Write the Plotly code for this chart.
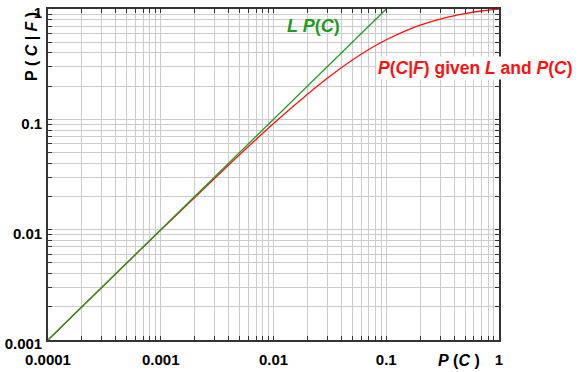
import plotly.graph_objects as go

# Data
pc_line = [0.0001, 0.1]
lp_line = [0.001, 1.0]

pc_curve = [0.0001, 0.0002, 0.0005, 0.001, 0.002, 0.005, 0.01, 0.02, 0.03, 0.05,
            0.07, 0.1, 0.15, 0.2, 0.3, 0.5, 0.7, 1.0]
pcf_curve = [0.000999, 0.001998, 0.00498, 0.00991, 0.0196, 0.0478, 0.0917, 0.169, 0.236, 0.345,
             0.43, 0.526, 0.638, 0.714, 0.811, 0.909, 0.959, 1.0]

x_major = [0.0001, 0.001, 0.01, 0.1, 1]
x_major_labels = ["0.0001", "0.001", "0.01", "0.1", "1"]
y_major = [0.001, 0.01, 0.1, 1]
y_major_labels = ["0.001", "0.01", "0.1", "1"]


def log_ticks(majors, labels):
    vals, texts = [], []
    for i, m in enumerate(majors):
        if i == len(majors) - 1:
            vals.append(m); texts.append(labels[i]); break
        for k in range(1, 10):
            vals.append(m * k)
            texts.append(labels[i] if k == 1 else "")
    return vals, texts


xv, xt = log_ticks(x_major, x_major_labels)
yv, yt = log_ticks(y_major, y_major_labels)

fig = go.Figure()
fig.add_trace(go.Scatter(x=pc_curve, y=pcf_curve, mode="lines", line=dict(color="#ff1010", width=1.3, shape="spline"),
                         showlegend=False, hoverinfo="skip"))
fig.add_trace(go.Scatter(x=pc_line, y=lp_line, mode="lines", line=dict(color="#1f9a1f", width=1.3),
                         showlegend=False, hoverinfo="skip"))

axis_common = dict(type="log", showgrid=True, gridcolor="#cccccc", gridwidth=1, zeroline=False,
                   ticks="inside", ticklen=4, tickcolor="#333", showline=True, mirror="ticks",
                   linecolor="#333", linewidth=1.6, ticklabeloverflow="allow", automargin=False)

tick_font = dict(family="Liberation Sans", size=15, color="black", weight="bold")
fig.update_xaxes(range=[-4, 0], tickvals=xv, ticktext=xt, tickfont=tick_font, ticklabelstandoff=5,
                 **axis_common)
fig.update_yaxes(range=[-3, 0], tickvals=yv, ticktext=yt, ticklabelshift=4, ticklabelstandoff=1,
                 tickfont=tick_font, **axis_common)

ann = dict(xref="paper", yref="paper", showarrow=False, xanchor="center", yanchor="middle")
fig.add_annotation(**ann, x=-0.038, y=0.888, textangle=-90,
                   text="<b>P ( <i>C</i> | <i>F</i> )</b>",
                   font=dict(family="Liberation Sans", size=16, color="black"))
fig.add_annotation(**ann, x=0.911, y=-0.063,
                   text="<b><i>P</i> (<i>C</i> )</b>",
                   font=dict(family="Liberation Sans", size=16, color="black"))
fig.add_annotation(**ann, x=0.588, y=0.949,
                   text="<b><i>L P</i>(<i>C</i>)</b>",
                   font=dict(family="Liberation Sans", size=18, color="#1f9a1f"))
fig.add_annotation(**ann, x=0.949, y=0.822, bgcolor="white",
                   text="<b><i>P</i>(<i>C</i>|<i>F</i>) given <i>L</i> and <i>P</i>(<i>C</i>)</b>",
                   font=dict(family="Liberation Sans", size=17.5, color="#ff1010"))

fig.update_layout(width=579, height=372, margin=dict(l=48, r=80, t=9, b=32, autoexpand=False),
                  plot_bgcolor="white", paper_bgcolor="white")

fig.write_html("out.html", config={"displayModeBar": False},
               post_script="document.body.style.margin='0';")
